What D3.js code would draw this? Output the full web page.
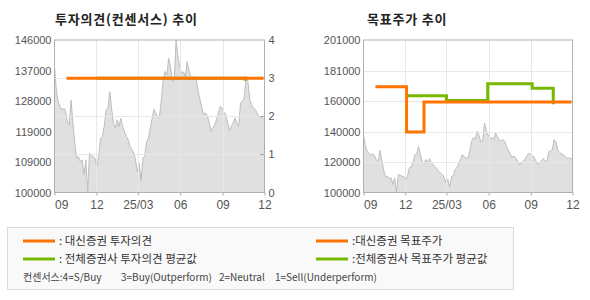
<!DOCTYPE html>
<html><head><meta charset="utf-8">
<script src="https://cdn.jsdelivr.net/npm/d3@7"></script>
<style>body{margin:0;background:#fff;} svg{display:block;}</style>
</head><body>
<svg id="c" width="590" height="300"></svg>
<script>
// ---------- data ----------
const priceDates = [
 "2024-09-01","2024-09-05","2024-09-09","2024-09-13","2024-09-17","2024-09-21","2024-09-25","2024-09-29",
 "2024-10-03","2024-10-07","2024-10-11","2024-10-15","2024-10-19","2024-10-23","2024-10-27","2024-10-31",
 "2024-11-04","2024-11-08","2024-11-12","2024-11-16","2024-11-20","2024-11-24","2024-11-28",
 "2024-12-02","2024-12-06","2024-12-10","2024-12-14","2024-12-18","2024-12-22","2024-12-26","2024-12-30",
 "2025-01-03","2025-01-07","2025-01-11","2025-01-15","2025-01-19","2025-01-23","2025-01-27","2025-01-31",
 "2025-02-04","2025-02-08","2025-02-12","2025-02-16","2025-02-20","2025-02-24","2025-02-28",
 "2025-03-04","2025-03-08","2025-03-12","2025-03-16","2025-03-20","2025-03-24","2025-03-28",
 "2025-04-01","2025-04-05","2025-04-09","2025-04-13","2025-04-17","2025-04-21","2025-04-25","2025-04-29",
 "2025-05-03","2025-05-07","2025-05-11","2025-05-15","2025-05-19","2025-05-23","2025-05-27","2025-05-31",
 "2025-06-04","2025-06-08","2025-06-12","2025-06-16","2025-06-20","2025-06-24","2025-06-28",
 "2025-07-02","2025-07-06","2025-07-10","2025-07-14","2025-07-18","2025-07-22","2025-07-26","2025-07-30",
 "2025-08-03","2025-08-07","2025-08-11","2025-08-15","2025-08-19","2025-08-23","2025-08-27","2025-08-31",
 "2025-09-04","2025-09-08","2025-09-12","2025-09-16","2025-09-20","2025-09-24","2025-09-28",
 "2025-10-02","2025-10-06","2025-10-10","2025-10-14","2025-10-18","2025-10-22","2025-10-26","2025-10-30",
 "2025-11-03","2025-11-07","2025-11-11","2025-11-15","2025-11-19","2025-11-23","2025-11-27","2025-12-01"
];
const priceValues = [
 137900,131000,127400,125900,124900,125500,124600,121400,
 120400,127800,121000,114900,110400,110800,109300,109800,
 105300,109800,100300,111900,111300,110800,110400,
 107800,110800,116400,116900,119900,124900,125400,130400,
 125400,120900,119400,121900,119900,122400,119900,118400,
 116900,115900,113900,112900,111900,109800,106300,
 108800,103500,110400,111000,115400,116400,119400,
 122400,125100,123900,122700,122900,127900,134000,136500,
 135500,140500,138000,133400,134000,146000,140900,138000,
 135900,136400,134900,139500,136900,134900,134000,
 135100,134000,130500,128000,125500,123500,124000,123000,
 121000,118500,119500,120500,122000,124000,126000,125500,
 124300,123500,121000,118500,120000,121000,122500,
 121000,120000,127000,127500,128500,135100,133500,128000,
 126500,125500,125000,124000,122700,122900,122500,122000
];
const opinionDates = ["2024-09-27","2025-11-29"];
const opinionValues = [3,3];
const consensusDates = ["2024-12-01","2025-10-20"];
const consensusValues = [3,2.93];
const targetDates = ["2024-09-27","2024-12-04","2025-01-11","2025-11-29"];
const targetValues = [170000,140000,160000,160000];
const avgTargetDates = ["2024-12-01","2025-03-01","2025-05-30","2025-09-04","2025-10-20"];
const avgTargetValues = [164000,161000,172000,169000,158500];

const xTickDates = ["2024-09-01","2024-12-01","2025-03-01","2025-06-01","2025-09-01","2025-12-01"];
const xTickLabels = ["09","12","25/03","06","09","12"];
const leftPriceLabels = ["100000","109000","119000","128000","137000","146000"];
const rightPriceLabels = ["100000","120000","140000","160000","181000","201000"];
const opinionTicks = [0,1,2,3,4];

// ---------- drawing ----------
const parse = d3.timeParse("%Y-%m-%d");
const svg = d3.select("#c");
const ORANGE = "#ff7300", GREEN = "#77b800";
const prices = priceDates.map((d,i)=>({date:parse(d), v:priceValues[i]}));
const NUM_FONT = "'Liberation Sans', Arial, sans-serif";
const KR_FONT = "'Noto Sans CJK KR', sans-serif";

function panel(opt){
  const {left, right, top, bottom, yMin, yMax, yLabels, title, titleX} = opt;
  const x = d3.scaleTime().domain([parse("2024-09-01"), parse("2025-12-01")]).range([left, right]);
  const y = d3.scaleLinear().domain([yMin, yMax]).range([bottom, top]);
  const g = svg.append("g");
  const clipId = "clip" + Math.round(left);
  svg.append("clipPath").attr("id", clipId).append("rect")
    .attr("x", left).attr("y", top).attr("width", right-left).attr("height", bottom-top);
  const pg = g.append("g").attr("clip-path", `url(#${clipId})`);
  pg.append("path").datum(prices)
    .attr("d", d3.area().x(d=>x(d.date)).y0(bottom).y1(d=>y(d.v)))
    .attr("fill", "#e0e0e0");
  pg.append("path").datum(prices)
    .attr("d", d3.line().x(d=>x(d.date)).y(d=>y(d.v)))
    .attr("fill", "none").attr("stroke", "#bdbdbd").attr("stroke-width", 1);
  // vertical grid
  const tickDates = xTickDates.map(parse);
  g.append("g").selectAll("line").data(tickDates.slice(1,-1)).join("line")
    .attr("x1", d=>Math.round(x(d))+0.5).attr("x2", d=>Math.round(x(d))+0.5)
    .attr("y1", top).attr("y2", bottom).attr("stroke", "#e8e8e8");
  // x axis
  const xa = g.append("g").attr("transform", `translate(0,${bottom})`)
    .call(d3.axisBottom(x).tickValues(tickDates).tickSize(3).tickPadding(5)
      .tickFormat((d,i)=>xTickLabels[i]));
  xa.select(".domain").remove();
  xa.selectAll("line").attr("stroke", "#aaa");
  xa.selectAll("text").attr("font-family", NUM_FONT).attr("font-size", 12).attr("fill", "#555");
  xa.selectAll("text").filter((d,i)=>i===0).attr("text-anchor", "start").attr("dx", 0);
  // left y axis
  const yTickVals = yLabels.map((s,i)=>yMin + i*(yMax-yMin)/(yLabels.length-1));
  const ya = g.append("g").attr("transform", `translate(${left},0)`)
    .call(d3.axisLeft(y).tickValues(yTickVals).tickSize(0).tickPadding(3)
      .tickFormat((d,i)=>yLabels[i]));
  ya.select(".domain").remove();
  ya.selectAll("text").attr("font-family", NUM_FONT).attr("font-size", 11).attr("fill", "#555");
  // title
  svg.append("text").attr("x", titleX).attr("y", 24).text(title)
    .attr("font-family", KR_FONT).attr("font-size", 13).attr("letter-spacing", 0.8)
    .attr("font-weight", "bold").attr("fill", "#222");
  return {x, y, g, pg, yTickVals};
}

// ----- left panel -----
const L = panel({left:54.5, right:264.5, top:40, bottom:192.5, yMin:100000, yMax:146000,
  yLabels:leftPriceLabels, title:"투자의견(컨센서스) 추이", titleX:55});
const yOp = d3.scaleLinear().domain([0,4]).range([192.5, 40]);
L.g.append("g").selectAll("line").data([1,2,3]).join("line")
  .attr("x1", 54.5).attr("x2", 264.5)
  .attr("y1", d=>Math.round(yOp(d))+0.5).attr("y2", d=>Math.round(yOp(d))+0.5)
  .attr("stroke", "#e8e8e8");
L.g.append("rect").attr("x", 54.5).attr("y", 40).attr("width", 210).attr("height", 152.5)
  .attr("fill", "none").attr("stroke", "#b0b0b0");
const ra = L.g.append("g").attr("transform", "translate(264.5,0)")
  .call(d3.axisRight(yOp).tickValues(opinionTicks).tickSize(0).tickPadding(4).tickFormat(d3.format("d")));
ra.select(".domain").remove();
ra.selectAll("text").attr("font-family", NUM_FONT).attr("font-size", 11).attr("fill", "#555");
L.g.append("g").selectAll("line").data([1,2,3]).join("line")
  .attr("x1", 260).attr("x2", 264.5)
  .attr("y1", d=>Math.round(yOp(d))+0.5).attr("y2", d=>Math.round(yOp(d))+0.5)
  .attr("stroke", "#a8a8a8");
const stepLine = (xs, ys) => d3.line().curve(d3.curveStepAfter).x(d=>xs(d.date)).y(d=>ys(d.v));
const consensus = consensusDates.map((d,i)=>({date:parse(d), v:consensusValues[i]}));
const opinion = opinionDates.map((d,i)=>({date:parse(d), v:opinionValues[i]}));
L.g.append("path").datum(consensus).attr("d", stepLine(L.x, yOp))
  .attr("fill","none").attr("stroke", GREEN).attr("stroke-width", 3);
L.g.append("path").datum(opinion).attr("d", stepLine(L.x, yOp))
  .attr("fill","none").attr("stroke", ORANGE).attr("stroke-width", 3);

// ----- right panel -----
const R = panel({left:363.5, right:572.5, top:40, bottom:192.5, yMin:100000, yMax:201000,
  yLabels:rightPriceLabels, title:"목표주가 추이", titleX:367});
R.g.append("g").selectAll("line").data(R.yTickVals.slice(1,-1)).join("line")
  .attr("x1", 363.5).attr("x2", 572.5)
  .attr("y1", d=>Math.round(R.y(d))+0.5).attr("y2", d=>Math.round(R.y(d))+0.5)
  .attr("stroke", "#e8e8e8");
R.g.append("rect").attr("x", 363.5).attr("y", 40).attr("width", 209).attr("height", 152.5)
  .attr("fill", "none").attr("stroke", "#b0b0b0");
const avgTarget = avgTargetDates.map((d,i)=>({date:parse(d), v:avgTargetValues[i]}));
const target = targetDates.map((d,i)=>({date:parse(d), v:targetValues[i]}));
R.g.append("path").datum(avgTarget).attr("d", stepLine(R.x, R.y))
  .attr("fill","none").attr("stroke", GREEN).attr("stroke-width", 3);
R.g.append("path").datum(target).attr("d", stepLine(R.x, R.y))
  .attr("fill","none").attr("stroke", ORANGE).attr("stroke-width", 3);

// ----- legend -----
const lg = svg.append("g");
lg.append("rect").attr("x", 7.5).attr("y", 227.5).attr("width", 506).attr("height", 62)
  .attr("fill", "#f9f9f9").attr("stroke", "#dcdcdc");
const legendItems = [
  {x:23, y:241, color:ORANGE, text:": 대신증권 투자의견"},
  {x:23, y:259, color:GREEN, text:": 전체증권사 투자의견 평균값"},
  {x:316, y:241, color:ORANGE, text:":대신증권 목표주가"},
  {x:316, y:259, color:GREEN, text:":전체증권사 목표주가 평균값"}
];
legendItems.forEach(it=>{
  lg.append("line").attr("x1", it.x).attr("x2", it.x+32).attr("y1", it.y).attr("y2", it.y)
    .attr("stroke", it.color).attr("stroke-width", 3);
  lg.append("text").attr("x", it.x+36).attr("y", it.y+4).text(it.text)
    .attr("font-family", KR_FONT).attr("font-size", 11.5).attr("fill", "#333");
});
const noteParts = [
  {x:23, text:"컨센서스:4=S/Buy"},
  {x:121, text:"3=Buy(Outperform)"},
  {x:219, text:"2=Neutral"},
  {x:275, text:"1=Sell(Underperform)"}
];
noteParts.forEach(p=>{
  lg.append("text").attr("x", p.x).attr("y", 281).text(p.text)
    .attr("font-family", KR_FONT).attr("font-size", 10).attr("fill", "#444");
});
</script>
</body></html>
